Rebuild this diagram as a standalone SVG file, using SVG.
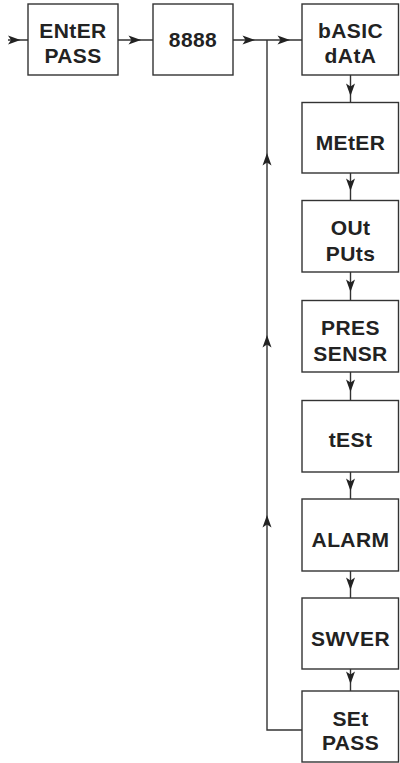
<svg xmlns="http://www.w3.org/2000/svg" xmlns:xlink="http://www.w3.org/1999/xlink" width="400" height="763" viewBox="0 0 400 763">
<style>
.box{fill:#fff;stroke:#333;stroke-width:1.4}
.ln{fill:none;stroke:#333;stroke-width:1.4}
.t{font-family:"Liberation Sans",Arial,sans-serif;font-weight:bold;font-size:21px;fill:#222;text-anchor:middle;letter-spacing:0.4px}
.ah{fill:#222}
</style>
<defs>
<path id="ah" d="M0,0 L-12.5,-4.5 L-9.5,0 L-12.5,4.5 Z"/>
</defs>
<rect width="400" height="763" fill="#fff"/>
<g id="connectors">
<path class="ln" d="M8,40 H28 M118,40 H153 M233,40 H302 M302,730 H267 V40"/>
<path class="ln" d="M350.5,75 V102.5 M350.5,173 V200.5 M350.5,272 V300.5 M350.5,372 V400.5 M350.5,472 V499 M350.5,571 V598 M350.5,669 V691"/>
<g class="ah">
<use xlink:href="#ah" transform="translate(20.5,40)"/>
<use xlink:href="#ah" transform="translate(141,40)"/>
<use xlink:href="#ah" transform="translate(255,40)"/>
<use xlink:href="#ah" transform="translate(290,40)"/>
<use xlink:href="#ah" transform="translate(267,153) rotate(-90)"/>
<use xlink:href="#ah" transform="translate(267,335) rotate(-90)"/>
<use xlink:href="#ah" transform="translate(267,515) rotate(-90)"/>
<use xlink:href="#ah" transform="translate(350.5,96) rotate(90)"/>
<use xlink:href="#ah" transform="translate(350.5,191) rotate(90)"/>
<use xlink:href="#ah" transform="translate(350.5,292) rotate(90)"/>
<use xlink:href="#ah" transform="translate(350.5,392) rotate(90)"/>
<use xlink:href="#ah" transform="translate(350.5,491) rotate(90)"/>
<use xlink:href="#ah" transform="translate(350.5,590) rotate(90)"/>
<use xlink:href="#ah" transform="translate(350.5,684) rotate(90)"/>
</g>
</g>
<g id="enter-pass"><rect class="box" x="28" y="4" width="90" height="71"/><text class="t" x="73" y="38.3">ENtER</text><text class="t" x="73" y="63.3">PASS</text></g>
<g id="n8888"><rect class="box" x="153" y="4" width="80" height="71"/><text class="t" x="193" y="47">8888</text></g>
<g id="basic-data"><rect class="box" x="302" y="4" width="96.5" height="71"/><text class="t" x="350.5" y="38.3">bASIC</text><text class="t" x="350.5" y="63.3">dAtA</text></g>
<g id="meter"><rect class="box" x="302" y="102.5" width="96.5" height="70.5"/><text class="t" x="350.5" y="150">MEtER</text></g>
<g id="outputs"><rect class="box" x="302" y="200.5" width="96.5" height="71.5"/><text class="t" x="350.5" y="235">OUt</text><text class="t" x="350.5" y="260.5">PUts</text></g>
<g id="pres-sensr"><rect class="box" x="302" y="300.5" width="96.5" height="71.5"/><text class="t" x="350.5" y="335">PRES</text><text class="t" x="350.5" y="360.5">SENSR</text></g>
<g id="test"><rect class="box" x="302" y="400.5" width="96.5" height="71.5"/><text class="t" x="350.5" y="447.3">tESt</text></g>
<g id="alarm"><rect class="box" x="302" y="499" width="96.5" height="72"/><text class="t" x="350.5" y="546.7">ALARM</text></g>
<g id="swver"><rect class="box" x="302" y="598" width="96.5" height="71"/><text class="t" x="350.5" y="645.7">SWVER</text></g>
<g id="set-pass"><rect class="box" x="302" y="691" width="96.5" height="71"/><text class="t" x="350.5" y="725.7">SEt</text><text class="t" x="350.5" y="750">PASS</text></g>
</svg>
